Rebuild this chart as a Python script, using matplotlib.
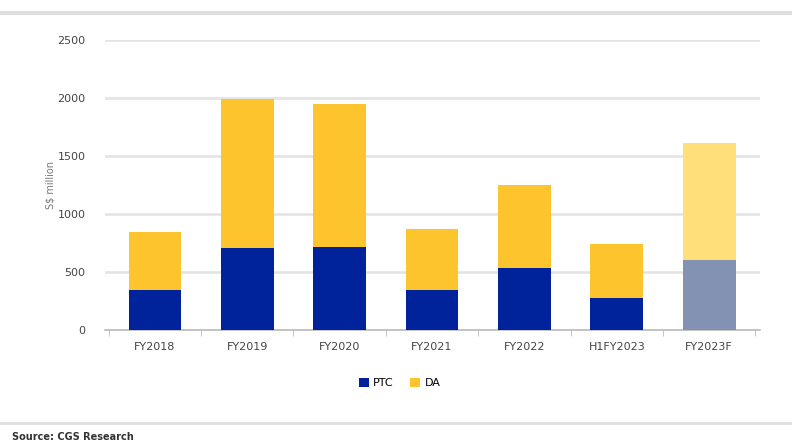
import matplotlib.pyplot as plt
import numpy as np

categories = ["FY2018", "FY2019", "FY2020", "FY2021", "FY2022", "H1FY2023", "FY2023F"]
ptc = [345, 707, 715, 345, 535, 275, 600]
da = [500, 1283, 1235, 525, 715, 465, 1010]
y_ticks = [0, 500, 1000, 1500, 2000, 2500]

blue = "#00239C"
yellow = "#FEC42D"
blue_f = "#8391B2"
yellow_f = "#FFDF7A"

fig = plt.figure(figsize=(7.92, 4.42), dpi=100)
ax = fig.add_axes([105 / 792, 112 / 442, 655 / 792, 290 / 442])

x = np.arange(len(categories))
blue_cols = [blue] * (len(categories) - 1) + [blue_f]
yellow_cols = [yellow] * (len(categories) - 1) + [yellow_f]

ax.bar(x, ptc, width=0.57, color=blue_cols, zorder=3, label="PTC")
ax.bar(x, da, width=0.57, bottom=ptc, color=yellow_cols, zorder=3, label="DA")

ax.set_ylim(0, 2500)
ax.set_xlim(-0.54, 6.55)
ax.set_yticks(y_ticks)
ax.set_yticklabels([str(v) for v in y_ticks], fontsize=8, color="#444444")
ax.set_xticks(x)
ax.set_xticklabels(categories, fontsize=8, color="#444444")
ax.set_xticks(np.arange(len(categories) + 1) - 0.5, minor=True)
ax.tick_params(axis="x", which="major", length=0, pad=9)
ax.tick_params(axis="x", which="minor", length=4, color="#BBBBBB")
ax.tick_params(axis="y", length=0, pad=14)

ax.grid(axis="y", color="#E3E3E3", linewidth=1.8, zorder=0)
for s in ["top", "right", "left"]:
    ax.spines[s].set_visible(False)
ax.spines["bottom"].set_color("#BBBBBB")
ax.spines["bottom"].set_linewidth(1.2)

ax.set_ylabel("S$ million", fontsize=7, color="#777777", labelpad=8)
ax.yaxis.set_label_coords(-0.075, 0.5)

ax.legend(loc="upper center", bbox_to_anchor=(0.45, -0.13), ncol=2, frameon=False,
          fontsize=8, handlelength=0.9, handleheight=0.9, columnspacing=1.5,
          handletextpad=0.4)

fig.add_artist(plt.Line2D([0.0, 1.0], [1 - 13 / 442, 1 - 13 / 442], color="#DDDDDD", linewidth=3))
fig.add_artist(plt.Line2D([0.0, 1.0], [1 - 423 / 442, 1 - 423 / 442], color="#DDDDDD", linewidth=2))
fig.text(12 / 792, 1 - 437 / 442, "Source: CGS Research", fontsize=7, color="#333333",
         va="center", fontweight="bold")

fig.savefig("out.png", dpi=100)
